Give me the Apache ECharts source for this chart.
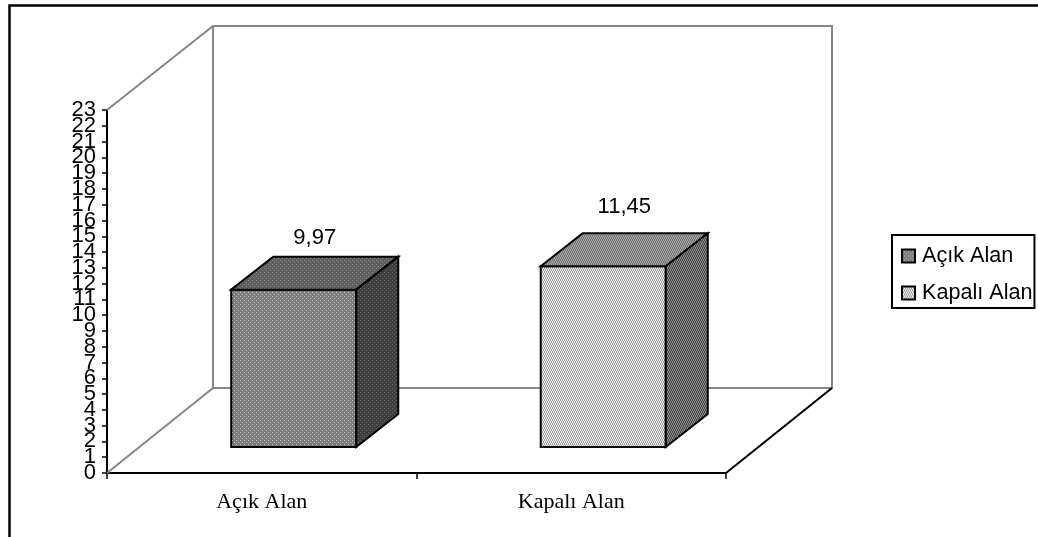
<!DOCTYPE html>
<html>
<head>
<meta charset="utf-8">
<script src="https://cdn.jsdelivr.net/npm/echarts@6/dist/echarts.min.js"></script>
<style>
html, body { margin: 0; padding: 0; background: #fff; }
#chart1 { width: 1038px; height: 537px; }
</style>
</head>
<body>
<div id="chart1"></div>
<script>
var categories = ['Açık Alan', 'Kapalı Alan'];
var seriesNames = ['Açık Alan', 'Kapalı Alan'];
var values = [9.97, 11.45];
var yTicks = { min: 0, max: 23, interval: 1 };

// depth of the fake 3d box, px
var wallDx = 106, wallDy = 84;
var barDx = 42, barDy = 33;
var floorLift = 26, barShift = 32;
var labelLift = [19, 26];

var dots = ['1000', '0000', '0010', '0000'];
var zigzag = ['1010', '0101', '0101', '1010'];

function pattern(bg, fg, rows) {
    var c = document.createElement('canvas');
    c.width = rows[0].length;
    c.height = rows.length;
    var g = c.getContext('2d');
    g.fillStyle = bg;
    g.fillRect(0, 0, c.width, c.height);
    g.fillStyle = fg;
    rows.forEach(function (r, y) {
        r.split('').forEach(function (v, x) {
            if (v === '1') g.fillRect(x, y, 1, 1);
        });
    });
    return { image: c, repeat: 'repeat' };
}

var faces = [
    {
        front: pattern('#7c7c7c', '#c4c4c4', dots),
        top: pattern('#5e5e5e', '#8e8e8e', dots),
        side: pattern('#3e3e3e', '#6c6c6c', dots)
    },
    {
        front: pattern('#f4f4f4', '#999999', zigzag),
        top: pattern('#a8a8a8', '#707070', zigzag),
        side: pattern('#8c8c8c', '#444444', zigzag)
    }
];

function poly(points, fill) {
    return {
        type: 'polygon',
        shape: { points: points },
        style: { fill: fill, stroke: '#000', lineWidth: 2, lineJoin: 'miter' }
    };
}

function renderWalls(params) {
    var s = params.coordSys;
    var x0 = s.x, x1 = s.x + s.width, top = s.y, bottom = s.y + s.height;
    var gray = { stroke: '#868686', lineWidth: 2, fill: null };
    return {
        type: 'group',
        children: [
            { type: 'rect', shape: { x: x0 + wallDx, y: top - wallDy, width: s.width, height: s.height - 1 }, style: gray },
            { type: 'line', shape: { x1: x0, y1: top, x2: x0 + wallDx, y2: top - wallDy }, style: { stroke: '#868686', lineWidth: 2 } },
            { type: 'line', shape: { x1: x0, y1: bottom, x2: x0 + wallDx, y2: bottom - wallDy - 1 }, style: { stroke: '#868686', lineWidth: 2 } },
            { type: 'line', shape: { x1: x1, y1: bottom, x2: x1 + wallDx, y2: bottom - wallDy - 1 }, style: { stroke: '#000', lineWidth: 2 } }
        ]
    };
}

function renderBar(params, api) {
    var i = params.seriesIndex - 1;
    var f = faces[i];
    var value = api.value(1);
    var p = api.coord([api.value(0), value]);
    var base = api.coord([api.value(0), 0]);
    var w = api.size([1, 0])[0] * 0.404;
    var l = p[0] + barShift - w / 2, r = l + w;
    var t = p[1] - floorLift, b = base[1] - floorLift;
    return {
        type: 'group',
        children: [
            poly([[l, t], [r, t], [r, b], [l, b]], f.front),
            poly([[l, t], [l + barDx, t - barDy], [r + barDx, t - barDy], [r, t]], f.top),
            poly([[r, t], [r + barDx, t - barDy], [r + barDx, b - barDy], [r, b]], f.side),
            {
                type: 'text',
                style: {
                    x: (l + r) / 2 + barDx / 2,
                    y: t - barDy - labelLift[i],
                    text: value.toFixed(2).replace('.', ','),
                    fill: '#000',
                    font: '22px "Liberation Sans"',
                    align: 'center',
                    verticalAlign: 'middle'
                }
            }
        ]
    };
}

// odd and even labels sit on two stacked axes, otherwise echarts drops the ones next to min/max
function yAxisFor(remainder, visible) {
    return {
        type: 'value',
        position: 'left',
        min: yTicks.min,
        max: yTicks.max,
        interval: yTicks.interval,
        axisLine: { show: visible, lineStyle: { color: '#000', width: 2 } },
        axisTick: { show: visible, length: 5, lineStyle: { color: '#000', width: 1.5 } },
        axisLabel: {
            color: '#000',
            fontFamily: 'Liberation Sans',
            fontSize: 22,
            margin: 11,
            showMinLabel: true,
            showMaxLabel: true,
            formatter: function (v) {
                return v % 2 === remainder ? String(v) : '';
            }
        },
        splitLine: { show: false }
    };
}

var myChart = echarts.init(document.getElementById('chart1'));

var seriesList = [
    {
        name: 'walls',
        type: 'custom',
        z: 1,
        silent: true,
        clip: false,
        renderItem: renderWalls,
        data: [[0, 0]]
    }
];
seriesNames.forEach(function (name, i) {
    seriesList.push({
        name: name,
        type: 'custom',
        z: 3,
        clip: false,
        renderItem: renderBar,
        itemStyle: { color: faces[i].front, borderColor: '#000', borderWidth: 1.5 },
        encode: { x: 0, y: 1 },
        data: [[i, values[i]]]
    });
});

myChart.setOption({
    animation: false,
    backgroundColor: '#fff',
    grid: { left: 107, top: 110, width: 619, height: 363 },
    legend: {
        orient: 'vertical',
        left: 892,
        top: 235,
        padding: [10, 2, 4, 9],
        itemWidth: 13,
        itemHeight: 13,
        itemGap: 15,
        icon: 'rect',
        borderColor: '#000',
        borderWidth: 2,
        backgroundColor: '#fff',
        selectedMode: false,
        data: seriesNames,
        textStyle: { color: '#000', fontFamily: 'Liberation Sans', fontSize: 21.6, lineHeight: 21, padding: [0, 0, 0, 2] }
    },
    xAxis: {
        type: 'category',
        data: categories,
        boundaryGap: true,
        axisLine: { lineStyle: { color: '#000', width: 2 } },
        axisTick: { show: true, alignWithLabel: false, length: 6, lineStyle: { color: '#000', width: 1.5 } },
        axisLabel: { color: '#000', fontFamily: 'Liberation Serif', fontSize: 22, margin: 18 },
        splitLine: { show: false }
    },
    yAxis: [yAxisFor(1, true), yAxisFor(0, false)],
    graphic: [
        {
            type: 'polyline',
            z: 0,
            shape: { points: [[9.5, 537], [9.5, 5.5], [1038, 5.5]] },
            style: { stroke: '#000', lineWidth: 2.5, fill: null }
        }
    ],
    series: seriesList
});
</script>
</body>
</html>
